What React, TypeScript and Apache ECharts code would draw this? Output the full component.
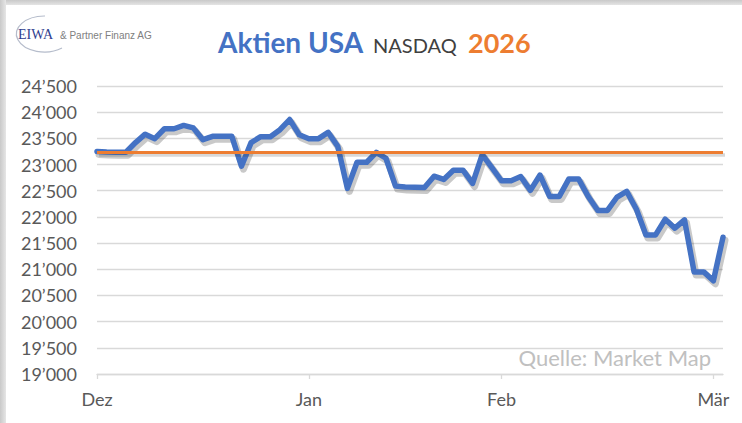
import React, { useEffect, useRef } from "react";
import * as echarts from "echarts";

// NASDAQ Composite daily closes (trading days, Dec 2025 – early Mar 2026)
const nasdaqClose = [
  23250, 23240, 23235, 23235, 23420, 23580, 23494, 23684, 23684, 23747,
  23700, 23475, 23538, 23538, 23538, 22968, 23418, 23532, 23532, 23665,
  23860, 23570, 23494, 23494, 23614, 23348, 22544, 23044, 23044, 23234,
  23120, 22588, 22570, 22565, 22563, 22778, 22715, 22892, 22892, 22639,
  23190, 22940, 22690, 22690, 22770, 22507, 22800, 22392, 22392, 22725,
  22725, 22392, 22123, 22123, 22380, 22488, 22150, 21656, 21656, 21957,
  21785, 21944, 20950, 20950, 20780, 21612,
];
const tradingDays = nasdaqClose.map((_, i) => String(i));
const monthTickIndex = [0, 22, 42, 64];
const monthNames = ["Dez", "Jan", "Feb", "Mär"];
const yearEndClose = 23242;
const yMin = 19000;
const yMax = 24500;
const yStep = 500;

const FONT = "Lato, 'Noto Sans', sans-serif";

function fmtThousands(v: number): string {
  const s = String(Math.round(v));
  return s.replace(/\B(?=(\d{3})+(?!\d))/g, "\u2019");
}

echarts.graphic.registerShape(
  "logoSwoosh",
  echarts.graphic.extendPath("M 45 16 A 28 18 0 1 0 62 48", {})
);

export default function App() {
  const ref = useRef<HTMLDivElement>(null);
  useEffect(() => {
    if (!ref.current) return;
    const chart = echarts.init(ref.current, undefined, { renderer: "svg" });
    const isMonthTick = (i: number) => monthTickIndex.includes(i);
    chart.setOption({
      animation: false,
      backgroundColor: "#ffffff",
      grid: [
        { left: 97, right: 19, top: 86, bottom: 49, containLabel: false },
        // drop-shadow layer: same scales, shifted a few pixels
        { left: 99, right: 17, top: 89, bottom: 46, containLabel: false },
      ],
      xAxis: [
        {
          type: "category",
          gridIndex: 0,
          data: tradingDays,
          boundaryGap: false,
          axisLine: { show: true, lineStyle: { color: "#d9d9d9", width: 1.3 } },
          axisTick: {
            show: true,
            interval: (i: number) => isMonthTick(i),
            length: 5,
            lineStyle: { color: "#d9d9d9", width: 1.3 },
          },
          axisLabel: {
            interval: (i: number) => isMonthTick(i),
            formatter: (_v: string, i: number) => monthNames[monthTickIndex.indexOf(i)] ?? "",
            color: "#595959",
            fontFamily: FONT,
            fontSize: 18,
            margin: 16,
          },
          splitLine: { show: false },
        },
        {
          type: "category",
          gridIndex: 1,
          data: tradingDays,
          boundaryGap: false,
          show: false,
        },
      ],
      yAxis: [
        {
          type: "value",
          gridIndex: 0,
          min: yMin,
          max: yMax,
          interval: yStep,
          axisLine: { show: false },
          axisTick: { show: false },
          axisLabel: {
            formatter: (v: number) => fmtThousands(v),
            color: "#595959",
            fontFamily: FONT,
            fontSize: 18,
            margin: 20,
          },
          splitLine: { lineStyle: { color: "#d9d9d9", width: 1.3 } },
        },
        {
          type: "value",
          gridIndex: 1,
          min: yMin,
          max: yMax,
          interval: yStep,
          show: false,
          splitLine: { show: false },
        },
      ],
      series: [
        {
          type: "line",
          xAxisIndex: 1,
          yAxisIndex: 1,
          data: nasdaqClose,
          symbol: "none",
          silent: true,
          z: 1,
          lineStyle: {
            color: "rgba(60,60,60,0.28)",
            width: 7,
            cap: "round",
            join: "round",
          },
          markLine: {
            silent: true,
            symbol: ["none", "none"],
            label: { show: false },
            lineStyle: { color: "rgba(60,60,60,0.2)", width: 3.5, type: "solid" },
            data: [{ yAxis: yearEndClose }],
          },
        },
        {
          type: "line",
          data: nasdaqClose,
          symbol: "none",
          smooth: false,
          z: 2,
          lineStyle: {
            color: "#4472C4",
            width: 5.5,
            cap: "round",
            join: "round",
          },
          markLine: {
            silent: true,
            symbol: ["none", "none"],
            label: { show: false },
            z: 5,
            lineStyle: {
              color: "#ED7D31",
              width: 3,
              type: "solid",
              opacity: 1,
            },
            data: [{ yAxis: yearEndClose }],
          },
        },
      ],
      graphic: [
        {
          type: "rect",
          left: 0,
          top: 0,
          shape: { width: 742, height: 5 },
          style: {
            fill: new echarts.graphic.LinearGradient(0, 0, 0, 1, [
              { offset: 0, color: "#c9c9c9" },
              { offset: 1, color: "#e4e4e4" },
            ]),
          },
          silent: true,
        },
        {
          type: "rect",
          left: 0,
          top: 0,
          shape: { width: 6, height: 423 },
          style: {
            fill: new echarts.graphic.LinearGradient(0, 0, 1, 0, [
              { offset: 0, color: "#c9c9c9" },
              { offset: 1, color: "#e6e6e6" },
            ]),
          },
          silent: true,
        },
        {
          type: "logoSwoosh",
          x: 0,
          y: 0,
          style: { fill: "none", stroke: "#b5bccb", lineWidth: 1.2 },
          silent: true,
        },
        {
          type: "text",
          x: 18,
          y: 34,
          style: {
            text: "EIWA",
            font: "14px 'Liberation Serif', 'DejaVu Serif', serif",
            fill: "#2f3e8f",
            verticalAlign: "middle",
          },
          silent: true,
        },
        {
          type: "text",
          x: 60,
          y: 35,
          style: {
            text: "& Partner Finanz AG",
            font: "10px 'Liberation Sans Narrow', 'Liberation Sans', sans-serif",
            fill: "#808080",
            verticalAlign: "middle",
          },
          silent: true,
        },
        {
          type: "text",
          x: 218,
          y: 42,
          style: {
            text: "Aktien USA",
            font: `bold 28px ${FONT}`,
            fill: "#4472C4",
            verticalAlign: "middle",
          },
          silent: true,
        },
        {
          type: "text",
          x: 373,
          y: 45,
          style: {
            text: "NASDAQ",
            font: `20px ${FONT}`,
            fill: "#404040",
            verticalAlign: "middle",
          },
          silent: true,
        },
        {
          type: "text",
          x: 468,
          y: 42,
          style: {
            text: "2026",
            font: `bold 27px ${FONT}`,
            fill: "#ED7D31",
            verticalAlign: "middle",
          },
          silent: true,
        },
        {
          type: "text",
          x: 711,
          y: 357,
          style: {
            text: "Quelle: Market Map",
            font: `22px ${FONT}`,
            fill: "#c0c0c0",
            align: "right",
            verticalAlign: "middle",
          },
          silent: true,
        },
      ],
    });
    return () => chart.dispose();
  }, []);
  return (
    <div
      ref={ref}
      style={{ position: "absolute", left: 0, top: 0, width: 742, height: 423 }}
    />
  );
}
